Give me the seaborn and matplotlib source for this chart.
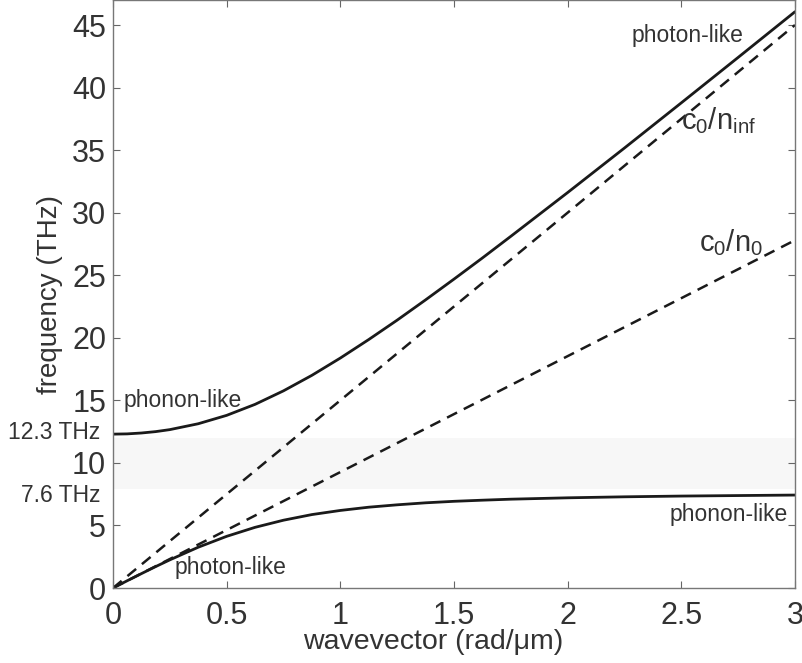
import matplotlib
matplotlib.use("Agg")
import matplotlib.pyplot as plt
import seaborn as sns
import pandas as pd

# wavevector (rad/um)
k = [0, 0.0625, 0.125, 0.1875, 0.25, 0.375, 0.5, 0.625, 0.75, 0.875, 1.0, 1.125, 1.25,
     1.375, 1.5, 1.625, 1.75, 2.0, 2.25, 2.5, 2.75, 3.0]
# upper polariton branch (THz)
upper = [12.30, 12.32, 12.39, 12.50, 12.66, 13.13, 13.80, 14.68, 15.76, 17.00, 18.38, 19.86, 21.41,
         23.03, 24.69, 26.38, 28.11, 31.61, 35.17, 38.78, 42.41, 46.06]
# lower polariton branch (THz)
lower = [0.0, 0.58, 1.15, 1.71, 2.25, 3.26, 4.13, 4.85, 5.42, 5.87, 6.20, 6.46, 6.65,
         6.81, 6.93, 7.02, 7.10, 7.21, 7.29, 7.35, 7.39, 7.43]
# light lines
k_line = [0, 3]
light_inf = [0, 45.0]
light_0 = [0, 27.8]

sns.set_theme(style="white")
plt.rcParams['font.family'] = ['Liberation Sans', 'DejaVu Sans']
plt.rcParams['mathtext.fontset'] = 'custom'
plt.rcParams['mathtext.rm'] = 'Liberation Sans'

fig = plt.figure(figsize=(8.03, 6.63), dpi=100)
ax = fig.add_axes([0.1407, 0.1131, 0.8493, 0.8869])

ax.axhspan(7.9, 12.0, color='#f7f7f7', zorder=0, lw=0)

df_u = pd.DataFrame({'k': k, 'f': upper})
df_l = pd.DataFrame({'k': k, 'f': lower})
sns.lineplot(data=df_u, x='k', y='f', ax=ax, color='#1a1a1a', lw=2.0)
sns.lineplot(data=df_l, x='k', y='f', ax=ax, color='#1a1a1a', lw=2.0)
sns.lineplot(x=k_line, y=light_inf, ax=ax, color='#1a1a1a', lw=1.8, dashes=False)
sns.lineplot(x=k_line, y=light_0, ax=ax, color='#1a1a1a', lw=1.8, dashes=False)
for ln in ax.lines[2:]:
    ln.set_dashes((4.5, 3))

ax.set_xlim(0, 3)
ax.set_ylim(0, 47)
ax.set_xticks([0, 0.5, 1, 1.5, 2, 2.5, 3])
ax.set_xticklabels(['0', '0.5', '1', '1.5', '2', '2.5', '3'])
ax.set_yticks(range(0, 50, 5))
ax.tick_params(direction='in', length=5, width=0.8, color='#666666',
               labelsize=22, labelcolor='#333333', top=True, right=True,
               bottom=True, left=True)
ax.tick_params(axis='x', pad=9)
ax.tick_params(axis='y', pad=5)
for s in ax.spines.values():
    s.set_color('#777777')
    s.set_linewidth(1.0)

ax.set_xlabel('wavevector (rad/\u03bcm)', fontsize=20.5, color='#333333')
ax.set_ylabel('frequency (THz)', fontsize=20, color='#333333')
ax.xaxis.set_label_coords(0.469, -0.069)
ax.yaxis.set_label_coords(-0.074, 0.5)

tc = '#333333'
ax.text(0.045, 14.95, 'phonon-like', fontsize=16.5, color=tc, va='center', ha='left')
ax.text(0.27, 1.6, 'photon-like', fontsize=16.5, color=tc, va='center', ha='left')
ax.text(2.45, 5.84, 'phonon-like', fontsize=16.5, color=tc, va='center', ha='left')
ax.text(2.28, 44.2, 'photon-like', fontsize=16.5, color=tc, va='center', ha='left')
ax.text(2.50, 37.4, r'$\mathregular{c_0/n_{inf}}$', fontsize=21, color=tc, va='center', ha='left')
ax.text(2.58, 27.6, r'$\mathregular{c_0/n_0}$', fontsize=21, color=tc, va='center', ha='left')
ax.text(-0.055, 12.4, '12.3 THz', fontsize=16.5, color=tc, va='center', ha='right', clip_on=False)
ax.text(-0.055, 7.4, '7.6 THz', fontsize=16.5, color=tc, va='center', ha='right', clip_on=False)

fig.savefig('out.png', dpi=100)
